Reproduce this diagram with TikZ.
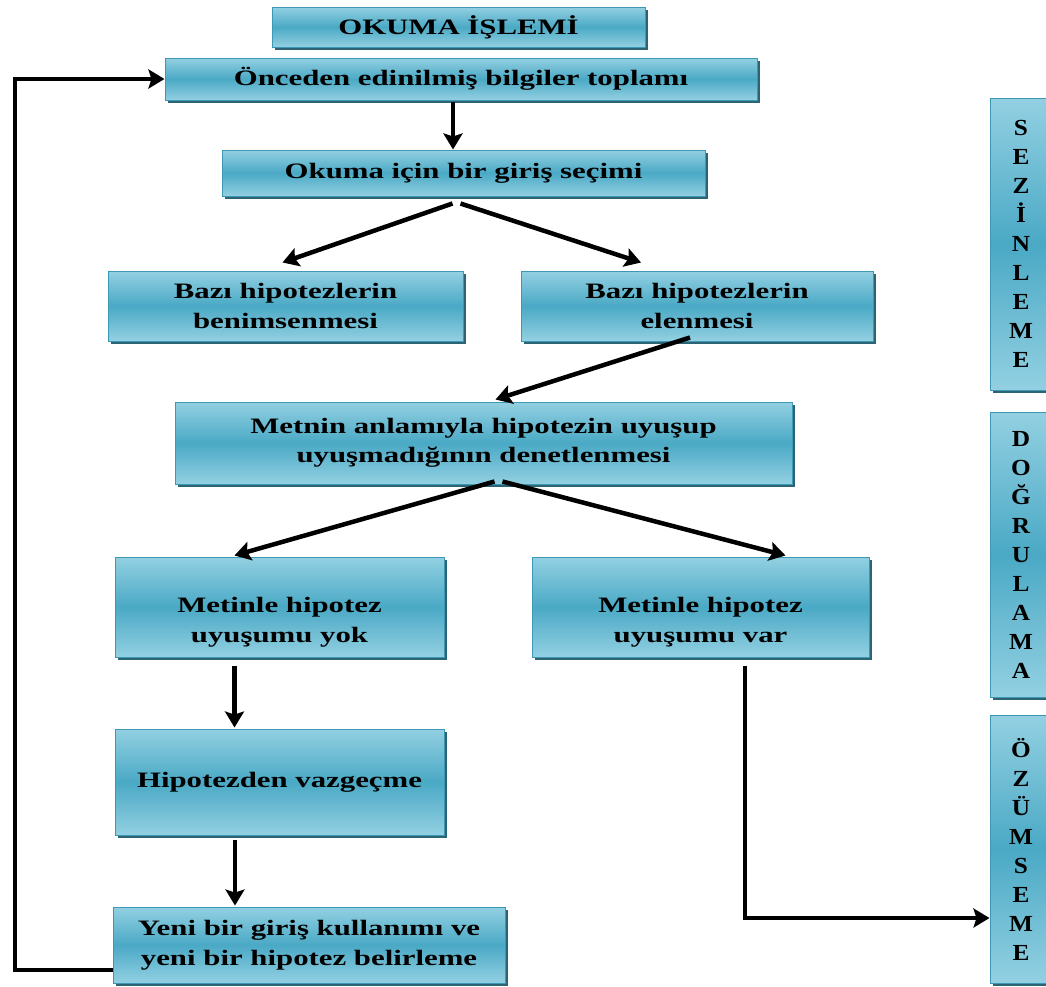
\documentclass[tikz,border=0pt]{standalone}
\usepackage{fontspec}
\setmainfont{Liberation Serif}[FakeStretch=1.4]
\newfontfamily\vfont{Liberation Serif}[FakeStretch=1.1]
\usetikzlibrary{arrows.meta,shadows,calc}
\definecolor{lightc}{HTML}{93D0E2}
\definecolor{midc}{HTML}{4AA9C5}
\definecolor{edgec}{HTML}{3C98B4}
\definecolor{shadc}{HTML}{2C6474}
\tikzset{
  box/.style={draw=edgec, line width=1pt, shading=axis, top color=lightc, bottom color=lightc, middle color=midc,
    drop shadow={shadow xshift=3pt, shadow yshift=-3pt, fill=shadc, opacity=1},
    align=center, font=\fontsize{22}{29.5}\selectfont\bfseries, text=black, inner sep=0pt},
  vbox/.style={box, font=\vfont\fontsize{23}{29}\selectfont\bfseries},
  txt/.style={align=center, font=\fontsize{22}{29.5}\selectfont\bfseries, text=black, inner sep=0pt},
  arr/.style={line width=4.5pt, -{Stealth[length=16pt,width=19pt,inset=3pt]}},
}
\begin{document}
\begin{tikzpicture}[x=1pt,y=-1pt]
\useasboundingbox (0,0) rectangle (1046,986);
\node[box, minimum width=373pt, minimum height=40pt] (title) at (458.5,27) {OKUMA İŞLEMİ};
\node[box, minimum width=592pt, minimum height=42pt] (onceden) at (461,79) {Önceden edinilmiş bilgiler toplamı};
\node[box, minimum width=483pt, minimum height=46pt] (okuma) at (463.5,173) {Okuma için bir giriş seçimi};
\node[box, minimum width=355pt, minimum height=70pt] (benim) at (285.5,306) {Bazı hipotezlerin\\benimsenmesi};
\node[box, minimum width=352pt, minimum height=70pt] (elen) at (697,306) {Bazı hipotezlerin\\elenmesi};
\node[box, minimum width=617pt, minimum height=82pt] (metnin) at (483.5,443) {Metnin anlamıyla hipotezin uyuşup\\uyuşmadığının denetlenmesi};
\node[box, minimum width=329pt, minimum height=100pt] (yok) at (279.5,607) {};
\node[txt] (yoktxt) at (279.5,622) {Metinle hipotez\\uyuşumu yok};
\node[box, minimum width=337pt, minimum height=100pt] (var) at (700.5,607) {};
\node[txt] (vartxt) at (700.5,622) {Metinle hipotez\\uyuşumu var};
\node[box, minimum width=329pt, minimum height=106pt] (vazgec) at (279.5,782) {Hipotezden vazgeçme};
\node[box, minimum width=392pt, minimum height=76pt] (yeni) at (309,945) {Yeni bir giriş kullanımı ve\\yeni bir hipotez belirleme};
\node[vbox, minimum width=62pt, minimum height=292pt] (sez) at (1021,244) {S\\E\\Z\\İ\\N\\L\\E\\M\\E};
\node[vbox, minimum width=62pt, minimum height=285pt] (dog) at (1021,554.5) {D\\O\\Ğ\\R\\U\\L\\A\\M\\A};
\node[vbox, minimum width=62pt, minimum height=268pt] (ozum) at (1021,849) {Ö\\Z\\Ü\\M\\S\\E\\M\\E};
\coordinate (loopc) at (15,970);
\draw[arr] ([yshift=-25pt]yeni.west) -- (loopc) |- (onceden.west);
\draw[arr] ([xshift=-8pt,yshift=-1pt]onceden.south) -- ([xshift=-8pt]onceden.south |- okuma.north);
\draw[arr] ([xshift=-11pt,yshift=-7pt]okuma.south) -- ([xshift=-3pt,yshift=8pt]benim.north);
\draw[arr] ([xshift=-3pt,yshift=-7pt]okuma.south) -- ([xshift=-56pt,yshift=8pt]elen.north);
\draw[arr] ([xshift=-7pt,yshift=4pt]elen.south) -- ([xshift=12pt,yshift=2pt]metnin.north);
\draw[arr] ([xshift=11pt,yshift=3pt]metnin.south) -- ([xshift=-45pt,yshift=1pt]yok.north);
\draw[arr] ([xshift=19pt,yshift=3pt]metnin.south) -- ([xshift=85pt,yshift=1pt]var.north);
\draw[arr] ([xshift=-45pt,yshift=-8pt]yok.south) -- ([xshift=-45pt,yshift=1pt]vazgec.north);
\draw[arr] ([xshift=-44.5pt,yshift=-4pt]vazgec.south) -- ([xshift=-74pt,yshift=1pt]yeni.north);
\draw[arr] ([xshift=44.5pt,yshift=-8pt]var.south) |- ([yshift=-69pt]ozum.west);
\end{tikzpicture}
\end{document}
